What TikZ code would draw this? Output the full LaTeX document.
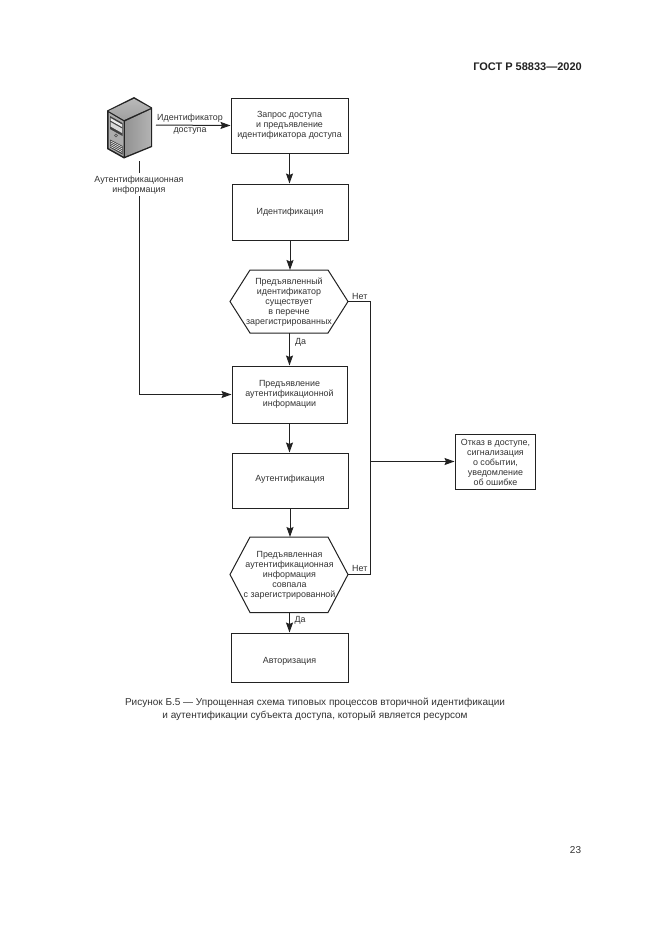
\documentclass[tikz,border=0pt]{standalone}
\usepackage{fontspec}
\setmainfont{Liberation Sans}
\usetikzlibrary{arrows.meta,positioning,calc}
\definecolor{ink}{HTML}{222222}
\definecolor{txt}{HTML}{333333}
\tikzset{
 flowbox/.style={draw=ink,line width=1pt,minimum width=#1,inner sep=0pt},
 arr/.style={draw=ink,line width=1pt,-{Stealth[length=10pt,width=7pt,inset=1.5pt]}},
 conn/.style={draw=ink,line width=1pt},
 lab/.style={font=\fontsize{8.9}{10}\selectfont,text=txt,inner sep=0pt,align=center},
}
\begin{document}
\begin{tikzpicture}[x=1pt,y=-1pt]
\useasboundingbox (0,0) rectangle (661,935);
\fill[white] (0,0) rectangle (661,935);
\node[font=\bfseries\fontsize{11}{13}\selectfont,text=ink,anchor=east,inner sep=0pt] (hdr) at (582,67) {ГОСТ Р 58833—2020};
% boxes
\node[flowbox=117pt,minimum height=55pt] (req) at (289.5,125.5) {};
\node[lab] (reqt) at (289.5,125.5) {Запрос доступа\\и предъявление\\идентификатора доступа};
\node[flowbox=116pt,minimum height=56pt] (idn) at (290,212) {};
\node[lab] (idnt) at (290,212.5) {Идентификация};
\draw[conn,fill=white] (230,301.5) -- (250,270) -- (328,270) -- (348,301.5) -- (328,333) -- (250,333) -- cycle;
\node[lab] (h1) at (289,302) {Предъявленный\\идентификатор\\существует\\в перечне\\зарегистрированных};
\coordinate (h1t) at (289.5,270); \coordinate (h1b) at (289.5,333); \coordinate (h1r) at (348,301.5);
\node[flowbox=115pt,minimum height=57pt] (pres) at (289.5,394.5) {};
\node[lab] (prest) at (289.5,394.5) {Предъявление\\аутентификационной\\информации};
\node[flowbox=116pt,minimum height=55pt] (aut) at (290,480.5) {};
\node[lab] (autt) at (290,479) {Аутентификация};
\draw[conn,fill=white] (230,574.5) -- (250,537) -- (328,537) -- (348,574.5) -- (328,612.5) -- (250,612.5) -- cycle;
\node[lab] (h2) at (289.5,575) {Предъявленная\\аутентификационная\\информация\\совпала\\с зарегистрированной};
\coordinate (h2t) at (289.5,537); \coordinate (h2b) at (289.5,612.5); \coordinate (h2r) at (348,574.5);
\node[flowbox=117pt,minimum height=49pt] (authz) at (289.5,657.5) {};
\node[lab] (authzt) at (289.5,661.5) {Авторизация};
\node[flowbox=80pt,minimum height=55pt] (deny) at (495,461.5) {};
\node[lab] (denyt) at (495.5,462.5) {Отказ в доступе,\\сигнализация\\о событии,\\уведомление\\об ошибке};
% server
\fill[ink] (134,97) -- (152,107.5) -- (152,147) -- (124,158.5) -- (107,149) -- (107,110.5) -- cycle;
\shade[top color=gray!55,bottom color=gray!75] (134,98.8) -- (150.6,108) -- (124,120) -- (108.6,111) -- cycle;
\shade[left color=gray!85,right color=gray!60] (125,121.5) -- (150.8,109.5) -- (150.8,146) -- (125,156.5) -- cycle;
\fill[gray!65] (108.5,112.5) -- (123.7,121.5) -- (123.7,156.5) -- (108.5,148) -- cycle;
\fill[black!75] (110,116) -- (122.5,123) -- (122.5,136) -- (110,129) -- cycle;
\fill[white!85!gray] (110.5,118) -- (122,124.5) -- (122,127) -- (110.5,120.5) -- cycle;
\fill[white!70!gray] (110.5,122) -- (122,128.5) -- (122,133) -- (110.5,126.5) -- cycle;
\draw[black!70,line width=.6pt] (116,135.5) circle (1.5pt);
\fill[black!75] (110,139.5) -- (122.5,146) -- (122.5,154.5) -- (110,147.5) -- cycle;
\foreach \d in {0,1.8,3.6,5.4}{\draw[white!85!gray,line width=.6pt] (110.5,141+\d) -- (122,147+\d);}
\coordinate (srvR) at (156,125);
\coordinate (srvB) at (139,161);
% connectors
\draw[arr] (srvR) -- (req.west);
\node[lab] (idl) at (190,118) {Идентификатор};
\node[lab] (dos) at (190,131) {доступа};
\draw[arr] (req.south) -- (idn.north -| req.south);
\draw[arr] (idn.south) -- (h1t -| idn.south);
\draw[arr] (h1b) -- (h1b |- pres.north);
\draw[arr] (pres.south) -- (pres.south |- aut.north);
\draw[arr] (aut.south) -- (aut.south |- h2t);
\draw[arr] (h2b) -- (h2b |- authz.north);
\node[lab,anchor=west] (da1) at (295,342) {Да};
\node[lab,anchor=west] (da2) at (294.5,620) {Да};
\node[lab] (al) at (139,185) {Аутентификационная\\информация};
\draw[conn] (srvB) -- (139,173);
\coordinate (alb) at (139,196);
\coordinate (alc) at (139,394.5);
\draw[arr] (alb) -- (alc) -- (pres.west);
\coordinate (tr1) at (370,301.5);
\coordinate (tr2) at (370,574.5);
\coordinate (trm) at (370,461.5);
\draw[conn] (h1r) -- (tr1) -- (tr2) -- (h2r);
\draw[arr] (trm) -- (deny.west);
\node[lab,anchor=west] (net1) at (352,296) {Нет};
\node[lab,anchor=west] (net2) at (352,568.5) {Нет};
% caption
\node[align=center,font=\fontsize{10}{13}\selectfont,text=txt,inner sep=0pt] (cap) at (315,709.5) {Рисунок Б.5 — Упрощенная схема типовых процессов вторичной идентификации\\и аутентификации субъекта доступа, который является ресурсом};
\node[font=\fontsize{10}{12}\selectfont,text=txt,inner sep=0pt] (pg) at (575.5,850) {23};
\end{tikzpicture}
\end{document}
